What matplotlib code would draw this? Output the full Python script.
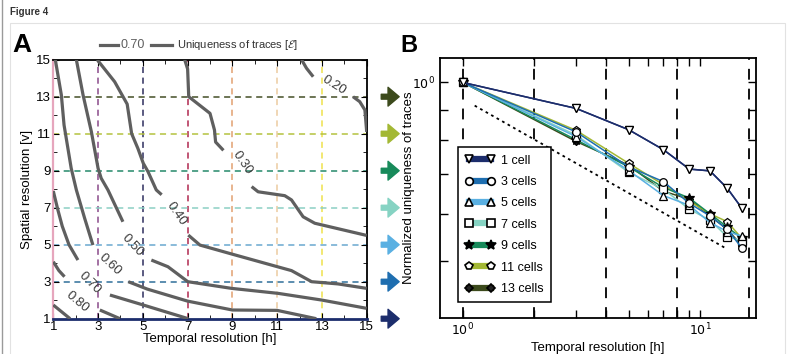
import matplotlib
matplotlib.use('Agg')
import matplotlib.pyplot as plt
from matplotlib.lines import Line2D
from matplotlib.patches import Rectangle
import numpy as np

plt.rcParams['font.family'] = ['Liberation Sans', 'DejaVu Sans']
plt.rcParams['mathtext.fontset'] = 'dejavusans'

# ---------------- Panel A data: contour polylines ----------------
GRID_TICKS = [1, 3, 5, 7, 9, 11, 13, 15]

C20 = [([12.09, 12.31, 12.61], [15.0, 14.54, 14.08]),
       ([14.39, 14.69, 14.92, 15.0], [13.0, 12.73, 12.28, 11.1])]
C30 = [([6.87, 7.0, 7.05, 8.0, 8.2, 8.25, 8.6], [15.0, 14.5, 13.0, 12.1, 11.2, 10.55, 10.1]),
       ([9.86, 10.15, 11.34, 11.64, 12.16, 12.68, 15.0], [8.14, 7.86, 7.65, 7.42, 6.51, 6.16, 5.5])]
C40 = [([2.96, 3.74, 4.3, 4.5, 4.78, 5.02, 5.23, 5.6, 5.84], [15.0, 13.81, 12.6, 11.0, 10.2, 9.4, 8.95, 7.96, 7.7]),
       ([7.03, 7.55, 8.96, 11.04, 11.64, 12.54, 13.72, 15.0], [5.52, 4.98, 4.5, 3.8, 3.6, 3.0, 2.88, 2.64])]
C50 = [([2.03, 2.33, 2.70, 3.0, 3.14, 3.44, 4.11], [15.0, 13.09, 11.11, 9.13, 8.59, 7.96, 6.24]),
       ([5.38, 6.12, 7.01, 8.96, 11.04, 12.98, 15.0], [4.17, 3.81, 3.0, 2.64, 2.37, 2.01, 1.56])]
C60 = [([1.09, 1.36, 1.48, 1.80, 2.03, 2.40, 2.77], [15.0, 13.09, 11.47, 9.13, 7.96, 6.43, 4.98]),
       ([4.35, 5.2, 7.0, 9.0, 11.0, 12.75], [3.0, 2.6, 1.95, 1.47, 1.45, 1.0])]
C70 = [([1.0, 1.2, 1.4, 1.7, 2.1], [7.9, 6.9, 6.0, 5.0, 4.17]),
       ([3.53, 5.02, 7.03], [2.28, 1.74, 1.0])]
C80 = [([1.0, 1.25, 1.5], [4.08, 3.6, 3.27]),
       ([3.08, 3.98], [1.47, 1.0])]
C90 = [([1.0, 1.75], [1.74, 1.0])]
CONTOURS = [C20, C30, C40, C50, C60, C70, C80, C90]

# inline contour labels: text, x, y, rotation
LABEL_TXT = ['0.20', '0.30', '0.40', '0.50', '0.60', '0.70', '0.80']
LABEL_X = [13.55, 9.45, 6.5, 4.55, 3.55, 2.62, 2.07]
LABEL_Y = [13.6, 9.4, 6.65, 4.95, 3.9, 2.91, 1.92]
LABEL_ROT = [-32, -55, -55, -47, -43, -45, -40]

V_LINES = [3, 5, 7, 9, 11, 13]
V_COLORS = ['#8a4a8a', '#2e2e5e', '#b02850', '#e2a070', '#eccba0', '#efe24c']
H_LINES = [3, 5, 7, 9, 11, 13]
H_COLORS = ['#2f6f9a', '#6aa8d0', '#8ccfc4', '#24896a', '#b4c23e', '#444e26']

ARROW_Y = [13, 11, 9, 7, 5, 3, 1]
ARROW_C = ['#3c4a1c', '#a3b834', '#178a5a', '#86d3c3', '#5ab0e2', '#1e6eb0', '#1c2d6c']

# ---------------- Panel B data ----------------
T_RES = [1, 3, 5, 7, 9, 11, 13, 15]
SERIES = ['1 cell', '3 cells', '5 cells', '7 cells', '9 cells', '11 cells', '13 cells']
U_1 = [1.0, 0.904, 0.832, 0.770, 0.714, 0.709, 0.663, 0.613]
U_3 = [1.0, 0.825, 0.72, 0.68, 0.625, 0.595, 0.565, 0.525]
U_5 = [1.0, 0.81, 0.71, 0.644, 0.62, 0.58, 0.56, 0.55]
U_7 = [1.0, 0.815, 0.705, 0.66, 0.611, 0.585, 0.549, 0.54]
U_9 = [1.0, 0.80, 0.72, 0.665, 0.638, 0.60, 0.57, 0.545]
U_11 = [1.0, 0.83, 0.73, 0.672, 0.63, 0.60, 0.582, 0.545]
U_13 = [1.0, 0.795, 0.725, 0.655, 0.635, 0.595, 0.565, 0.53]
U_ALL = [U_1, U_3, U_5, U_7, U_9, U_11, U_13]
S_COLORS = ['#1c2d6c', '#1e6eb0', '#5ab0e2', '#86d3c3', '#178a5a', '#a3b834', '#3c4a1c']
S_MARKERS = ['v', 'o', '^', 's', '*', 'p', 'D']
S_FILL = ['white', 'white', 'white', 'white', 'black', 'white', '#222222']
REF_X = [1.12, 13.0]
REF_Y = [0.914, 0.523]
B_VLINES = [1, 2, 4, 8, 16]

W, H = 795, 354
fig = plt.figure(figsize=(W / 100, H / 100), dpi=100)

# page frame
fig.add_artist(Rectangle((10 / W, -0.05), 775 / W, (H - 23) / H + 0.05, transform=fig.transFigure,
                         fill=False, edgecolor='#e2e2e2', lw=0.8))
fig.add_artist(Line2D([1.5 / W, 1.5 / W], [0, 1], transform=fig.transFigure, color='#9a9a9a', lw=1))
fig.text(10 / W, 1 - 12 / H, 'Figure 4', fontsize=7, fontweight='bold', color='#333333', va='center')

# ================= Panel A =================
axA = fig.add_axes([53.3 / W, 1 - 318.7 / H, 313.4 / W, 259 / H])
axA.set_xlim(1, 15)
axA.set_ylim(1, 15)
for x, c in zip(V_LINES, V_COLORS):
    axA.axvline(x, color=c, lw=1.1, dashes=(4, 3), zorder=1)
for y, c in zip(H_LINES, H_COLORS):
    axA.axhline(y, color=c, lw=1.1, dashes=(4, 3), zorder=1)

for parts in CONTOURS:
    for xs, ys in parts:
        axA.plot(xs, ys, color='#5f5f5f', lw=2.3, solid_capstyle='butt', zorder=3)
for t, x, y, r in zip(LABEL_TXT, LABEL_X, LABEL_Y, LABEL_ROT):
    axA.text(x, y, t, fontsize=9.5, color='#3a3a3a', rotation=r, ha='center', va='center',
             rotation_mode='anchor', zorder=4)

axA.set_xticks(GRID_TICKS)
axA.set_yticks(GRID_TICKS)
axA.set_xticks(range(1, 16), minor=True)
axA.set_yticks(range(1, 16), minor=True)
axA.tick_params(which='both', direction='in', top=True, right=True, labelsize=9.5, pad=2)
axA.tick_params(which='major', length=4)
axA.tick_params(which='minor', length=3)
axA.set_xlabel('Temporal resolution [h]', fontsize=9.5, labelpad=0)
axA.set_ylabel('Spatial resolution [v]', fontsize=9.5, labelpad=2)
axA.spines['left'].set_color('#e6a6bd')
axA.spines['left'].set_linewidth(1.6)
axA.spines['bottom'].set_color('#1c2d6c')
axA.spines['bottom'].set_linewidth(2)
for s in ['top', 'right']:
    axA.spines[s].set_linewidth(1.3)

for y, c in zip(ARROW_Y, ARROW_C):
    axA.annotate('', xy=(16.45, y), xytext=(15.65, y), xycoords='data',
                 arrowprops=dict(arrowstyle='simple,head_length=0.8,head_width=1.35,tail_width=0.35',
                                 color=c, shrinkA=0, shrinkB=0, mutation_scale=10),
                 annotation_clip=False)

# contour legend above panel A
ly = 1 - 45 / H
fig.add_artist(Line2D([100 / W, 118 / W], [ly, ly], transform=fig.transFigure, color='#5f5f5f', lw=2.3))
fig.text(133 / W, ly, '0.70', fontsize=9, color='#5f5f5f', ha='center', va='center')
fig.add_artist(Line2D([151 / W, 172 / W], [ly, ly], transform=fig.transFigure, color='#5f5f5f', lw=2.3))
fig.text(177 / W, ly, r'Uniqueness of traces [$\mathcal{E}$]', fontsize=8, color='#333333', va='center')
fig.text(12 / W, 1 - 45 / H, 'A', fontsize=19, fontweight='bold', va='center')

# ================= Panel B =================
axB = fig.add_axes([440 / W, 1 - 318 / H, 316 / W, 260 / H])
axB.set_xscale('log')
axB.set_yscale('log')
axB.set_xlim(0.8, 17.2)
axB.set_ylim(0.4, 1.1)
for x in B_VLINES:
    axB.axvline(x, color='black', lw=1.3, dashes=(6, 5), zorder=1)
axB.plot(REF_X, REF_Y, color='black', lw=1.3, dashes=(1.5, 2), zorder=2)

for vals, c, m, f in zip(U_ALL[::-1], S_COLORS[::-1], S_MARKERS[::-1], S_FILL[::-1]):
    ms = 7 if m == '*' else (4 if m == 'D' else 5.5)
    axB.plot(T_RES, vals, color=c, lw=1.1, marker=m, ms=ms, mfc=f, mec='black', mew=0.9, zorder=3)
axB.plot(T_RES, U_1, color=S_COLORS[0], lw=1.1, marker='v', ms=5.5, mfc='white', mec='black',
         mew=0.9, zorder=4)

axB.set_xticks([1, 10])
axB.set_xticklabels([r'$10^0$', r'$10^1$'])
axB.set_xticks([2, 3, 4, 5, 6, 7, 8, 9], minor=True)
axB.set_xticklabels([], minor=True)
axB.set_yticks([1])
axB.set_yticklabels([r'$10^0$'])
axB.set_yticks([0.5, 0.6, 0.7, 0.8, 0.9], minor=True)
axB.set_yticklabels([], minor=True)
axB.tick_params(which='both', direction='in', top=True, right=True, labelsize=9, length=6, width=1)
axB.tick_params(axis='x', pad=3)
axB.set_xlabel('Temporal resolution [h]', fontsize=9.5, labelpad=2)
axB.set_ylabel('Normalized uniqueness of traces', fontsize=9.5)
axB.yaxis.set_label_coords(-0.078, 0.5)
for s in axB.spines.values():
    s.set_linewidth(1.3)

handles = []
for lab, c, m, f in zip(SERIES, S_COLORS, S_MARKERS, S_FILL):
    ms = 7 if m == '*' else (4 if m == 'D' else 5.5)
    handles.append(Line2D([0], [0], color=c, lw=4.5, marker=m, ms=ms, mfc=f, mec='black', mew=1.2,
                          label=lab))
leg = axB.legend(handles=handles, loc='lower left', bbox_to_anchor=(0.057, 0.06), borderaxespad=0,
                 numpoints=2, fontsize=9, handlelength=2.3, handletextpad=0.5, labelspacing=0.75,
                 borderpad=0.6, fancybox=False, framealpha=1, edgecolor='black')
leg.get_frame().set_linewidth(1.1)
fig.text(400 / W, 1 - 45 / H, 'B', fontsize=17, fontweight='bold', va='center')

fig.savefig('out.png', dpi=100)
